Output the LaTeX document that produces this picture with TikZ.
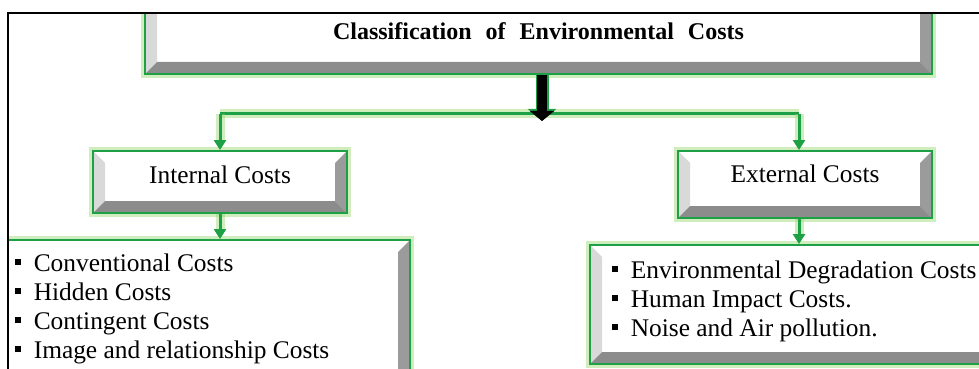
\documentclass[tikz,border=0pt]{standalone}
\usepackage{fontspec}
\setmainfont{Liberation Serif}
\usetikzlibrary{arrows.meta}

\definecolor{boxgreen}{RGB}{30,160,70}
\definecolor{glowgreen}{RGB}{150,215,110}
\definecolor{bevlight}{RGB}{217,217,217}
\definecolor{bevdark}{RGB}{140,140,140}
\definecolor{bevside}{RGB}{155,155,155}

\newcommand{\bevw}{6pt}
\newcommand{\sqbul}{\raisebox{3.2pt}{\rule{2.9pt}{3pt}}\hspace{6.3pt}}

\tikzset{
  bevelbox/.style={draw=boxgreen, line width=1pt, fill=white, inner sep=0pt,
    preaction={draw=glowgreen, line width=4pt, opacity=0.45},
    path picture={
      \fill[bevlight] (path picture bounding box.north west)
        -- ([shift={(\bevw,-\bevw)}]path picture bounding box.north west)
        -- ([shift={(\bevw,\bevw)}]path picture bounding box.south west)
        -- (path picture bounding box.south west) -- cycle;
      \fill[bevside] (path picture bounding box.north east)
        -- ([shift={(-\bevw,-\bevw)}]path picture bounding box.north east)
        -- ([shift={(-\bevw,\bevw)}]path picture bounding box.south east)
        -- (path picture bounding box.south east) -- cycle;
      \fill[bevdark] (path picture bounding box.south west)
        -- ([shift={(\bevw,\bevw)}]path picture bounding box.south west)
        -- ([shift={(-\bevw,\bevw)}]path picture bounding box.south east)
        -- (path picture bounding box.south east) -- cycle;
    }},
  greenline/.style={draw=boxgreen, line width=1.5pt,
    preaction={draw=glowgreen, line width=4.5pt, opacity=0.45}},
  greenarrow/.style={greenline, -{Triangle[width=6pt,length=5pt]}},
  mainarrow/.style={draw=black, line width=5pt, -{Triangle[width=12pt,length=5pt]},
    preaction={draw=boxgreen, line width=6.5pt, -{Triangle[width=14pt,length=6pt]}}},
  frameline/.style={draw=black, line width=0.8pt}
}

\begin{document}
\begin{tikzpicture}[x=0.5pt,y=-0.5pt,font=\fontsize{12.7}{14.6}\selectfont]
  \useasboundingbox (0,0) rectangle (979,369);

  \begin{scope}
    \clip (8,13) rectangle (979,369);

    \begin{scope}[every node/.style={bevelbox}]
      \node[minimum width=393.5pt, minimum height=42pt, text height=10pt, text depth=2.5pt,
        font=\bfseries\fontsize{12}{14}\selectfont] (title) at (538.5,32)
        {Classification\hspace{7pt}of\hspace{7pt}Environmental\hspace{7pt}Costs};
      \node[minimum width=127pt, minimum height=31pt, text height=9pt, text depth=8pt]
        (intcost) at (220,182) {Internal Costs};
      \node[minimum width=127pt, minimum height=33.5pt, text height=8pt, text depth=10.5pt]
        (extcost) at (805,184.5) {External Costs};
      \node[minimum width=215pt, minimum height=90pt] (intlist) at (195,330) {};
      \node[minimum width=210pt, minimum height=59.5pt] (extlist) at (800,304.5) {};
    \end{scope}

    \begin{scope}[every node/.style={align=left, inner sep=0pt, anchor=west}]
      \node (intitems) at (15,309) {\sqbul Conventional Costs\\
        \sqbul Hidden Costs\\
        \sqbul Contingent Costs\\
        \sqbul Image and relationship Costs};
      \node (extitems) at (612,301.5) {\sqbul Environmental Degradation Costs\\
        \sqbul Human Impact Costs.\\
        \sqbul Noise and Air pollution.};
    \end{scope}

    \coordinate (intjoin) at (220,114);
    \coordinate (extjoin) at (799,114);
    \coordinate (hubtip) at (542,121);

    \path (intjoin) edge[greenline] (extjoin);
    \path (intjoin) edge[greenarrow] (intcost.north);
    \path (extjoin) edge[greenarrow] (extjoin |- extcost.north);
    \path (intcost.south) edge[greenarrow] (intcost.south |- intlist.north);
    \path (extjoin |- extcost.south) edge[greenarrow] (extjoin |- extlist.north);
    \path (title.south -| hubtip) edge[mainarrow] (hubtip);
  \end{scope}

  \coordinate (ftl) at (8,13);
  \coordinate (ftr) at (979,13);
  \coordinate (fbl) at (8,369);
  \draw[frameline] (ftr) -- (ftl) -- (fbl);

\end{tikzpicture}
\end{document}
